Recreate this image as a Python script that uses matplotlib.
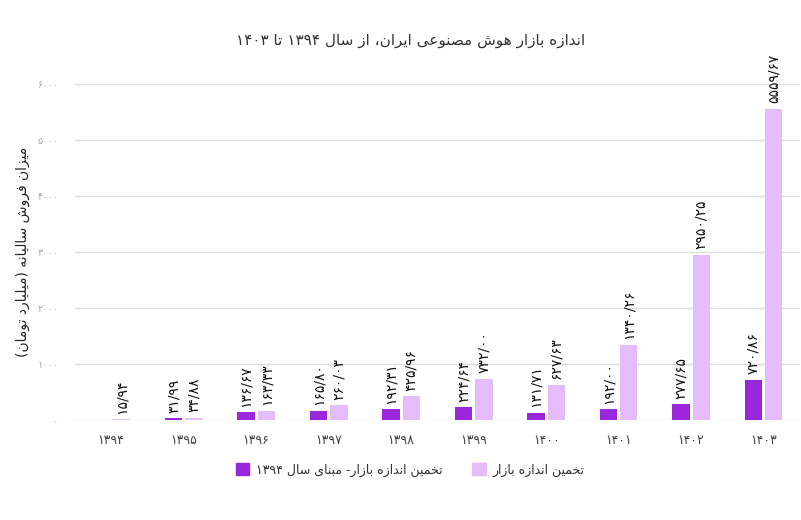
import matplotlib
matplotlib.use("Agg")
import matplotlib.pyplot as plt
import numpy as np
from matplotlib.patches import Patch

# ---- data ----
years = ["1394", "1395", "1396", "1397", "1398", "1399", "1400", "1401", "1402", "1403"]
base_1394 = [np.nan, 31.99, 136.67, 165.80, 192.31, 224.64, 131.71, 192.00, 277.65, 720.86]
market = [15.94, 34.88, 163.33, 260.03, 425.96, 732.00, 627.63, 1340.26, 2950.25, 5559.67]
y_ticks = [0, 1000, 2000, 3000, 4000, 5000, 6000]

title = "اندازه بازار هوش مصنوعی ایران، از سال ۱۳۹۴ تا ۱۴۰۳"
y_label = "میزان فروش سالیانه (میلیارد تومان)"
legend_base = "تخمین اندازه بازار- مبنای سال ۱۳۹۴"
legend_market = "تخمین اندازه بازار"

DARK = "#9b27dc"
LIGHT = "#e4bbfb"

# ---- tiny Persian shaper: matplotlib has no bidi / joining ----
# letter: (isolated, final, initial, medial); two-form letters do not join forward
FORMS = {
    "ا": ("\ufe8d", "\ufe8e", None, None),
    "ب": ("\ufe8f", "\ufe90", "\ufe91", "\ufe92"),
    "ت": ("\ufe95", "\ufe96", "\ufe97", "\ufe98"),
    "خ": ("\ufea5", "\ufea6", "\ufea7", "\ufea8"),
    "د": ("\ufea9", "\ufeaa", None, None),
    "ر": ("\ufead", "\ufeae", None, None),
    "ز": ("\ufeaf", "\ufeb0", None, None),
    "س": ("\ufeb1", "\ufeb2", "\ufeb3", "\ufeb4"),
    "ش": ("\ufeb5", "\ufeb6", "\ufeb7", "\ufeb8"),
    "ص": ("\ufeb9", "\ufeba", "\ufebb", "\ufebc"),
    "ع": ("\ufec9", "\ufeca", "\ufecb", "\ufecc"),
    "ف": ("\ufed1", "\ufed2", "\ufed3", "\ufed4"),
    "ل": ("\ufedd", "\ufede", "\ufedf", "\ufee0"),
    "م": ("\ufee1", "\ufee2", "\ufee3", "\ufee4"),
    "ن": ("\ufee5", "\ufee6", "\ufee7", "\ufee8"),
    "ه": ("\ufee9", "\ufeea", "\ufeeb", "\ufeec"),
    "و": ("\ufeed", "\ufeee", None, None),
    "ی": ("\ufeef", "\ufef0", "\ufef3", "\ufef4"),
}
FA_DIGITS = str.maketrans("0123456789.", "۰۱۲۳۴۵۶۷۸۹/")


def shape(text):
    out = []
    for i, c in enumerate(text):
        if c not in FORMS:
            out.append(c)
            continue
        prev = text[i - 1] if i > 0 else ""
        nxt = text[i + 1] if i + 1 < len(text) else ""
        joins_prev = prev in FORMS and FORMS[prev][2] is not None
        joins_next = nxt in FORMS and FORMS[c][2] is not None
        iso, fin, ini, med = FORMS[c]
        if joins_prev and joins_next:
            out.append(med)
        elif joins_prev:
            out.append(fin)
        elif joins_next:
            out.append(ini)
        else:
            out.append(iso)
    vis = "".join(out)[::-1]
    vis = vis.translate(str.maketrans("()", ")("))
    # digit runs stay left-to-right
    res, run = [], ""
    for c in vis:
        if c in "۰۱۲۳۴۵۶۷۸۹/":
            run += c
        else:
            res.append(run[::-1])
            run = ""
            res.append(c)
    res.append(run[::-1])
    return "".join(res)


def fa_num(s):
    return s.translate(FA_DIGITS)


plt.rcParams["font.family"] = ["DejaVu Sans"]

fig = plt.figure(figsize=(8.01, 5.2), dpi=100)
ax = fig.add_axes([0.0936, 0.1923, 0.905, 0.646])

x = np.arange(len(years))
w = 0.24
off = 0.14
ax.bar(x - off, base_1394, w, color=DARK, zorder=2)
ax.bar(x + off, market, w, color=LIGHT, zorder=2)

for xi, v in zip(x, base_1394):
    if np.isnan(v):
        continue
    ax.annotate(fa_num(f"{v:.2f}"), (xi - off, v), xytext=(0, 4), textcoords="offset points",
                rotation=90, ha="center", va="bottom", fontsize=10,
                color="#111111", annotation_clip=False)
for xi, v in zip(x, market):
    ax.annotate(fa_num(f"{v:.2f}"), (xi + off, v), xytext=(0, 4), textcoords="offset points",
                rotation=90, ha="center", va="bottom", fontsize=10,
                color="#111111", annotation_clip=False)

ax.set_xlim(-0.5, 9.5)
ax.set_ylim(0, 6000)
ax.set_xticks(x)
ax.set_xticklabels([fa_num(y) for y in years], fontsize=9, color="#444444")
ax.set_yticks(y_ticks)
ax.set_yticklabels([fa_num(str(t)) for t in y_ticks], fontsize=7, color="#aaaaaa")
ax.tick_params(axis="both", length=0)
ax.tick_params(axis="x", pad=10)
ax.tick_params(axis="y", pad=12)
for s in ax.spines.values():
    s.set_visible(False)
ax.grid(axis="y", color="#dddddd", linewidth=1, zorder=0)
ax.set_axisbelow(True)

ax.set_ylabel(shape(y_label), fontsize=10, color="#222222", labelpad=5)

fig.text(0.513, 1 - 40 / 520, shape(title), ha="center", va="center",
         fontsize=11, color="#333333")

handles = [Patch(color=DARK), Patch(color=LIGHT)]
fig.legend(handles, [shape(legend_base), shape(legend_market)], ncol=2,
           loc="center", bbox_to_anchor=(0.512, 1 - 470 / 520), frameon=False,
           fontsize=9, handlelength=1.1, handleheight=1.1, columnspacing=2.4,
           handletextpad=0.5, labelcolor="#333333")

fig.savefig("out.png", dpi=100)
